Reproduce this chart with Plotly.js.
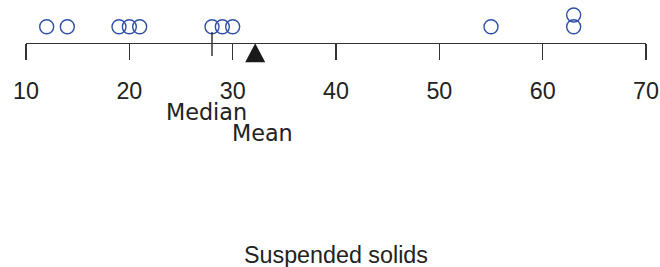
<!DOCTYPE html>
<html>
<head>
<meta charset="utf-8">
<script src="https://cdn.plot.ly/plotly-3.0.1.min.js"></script>
<style>html,body{margin:0;padding:0;background:#fff;}#chart{width:660px;height:267px;}</style>
</head>
<body>
<div id="chart"></div>
<script>
// Data: suspended solids observations
const values = [12, 14, 19, 20, 21, 28, 29, 30, 55, 63, 63];
const tickValues = [10, 20, 30, 40, 50, 60, 70];
const tickLabels = ['10', '20', '30', '40', '50', '60', '70'];
const axisTitle = 'Suspended solids';
const medianLabel = 'Median';
const meanLabel = 'Mean';

// Stack levels for repeated values (dot plot)
const seen = {};
const levels = values.map(v => { seen[v] = (seen[v] || 0) + 1; return seen[v]; });
const sorted = values.slice().sort((a, b) => a - b);
const n = sorted.length;
const median = n % 2 ? sorted[(n - 1) / 2] : (sorted[n / 2 - 1] + sorted[n / 2]) / 2;
const mean = values.reduce((a, b) => a + b, 0) / n;

// Layout helpers: plot area 100px tall starting at top of page
const PLOT_H = 100;
const BASE = 38.4, STEP = 11.7;
function yAt(p) { return (BASE - p) / STEP; }
const FONT = 'Liberation Sans, Arial, Helvetica, sans-serif';
const LABEL_FONT = 'DejaVu Sans, Liberation Sans, Arial, sans-serif';

const circles = {
  x: values, y: levels, type: 'scatter', mode: 'markers',
  marker: { symbol: 'circle-open', size: 14, color: '#3050a8', line: { width: 1.4, color: '#3050a8' } },
  cliponaxis: false, hoverinfo: 'skip', showlegend: false
};
const medianLine = {
  x: [median, median], y: [yAt(32), yAt(56)], type: 'scatter', mode: 'lines',
  line: { color: '#333', width: 1.5 }, cliponaxis: false, hoverinfo: 'skip', showlegend: false
};
const halfW = 10 / (620 / 60);
const meanTri = {
  x: [mean - halfW, mean + halfW, mean, mean - halfW],
  y: [yAt(62.3), yAt(62.3), yAt(43.3), yAt(62.3)],
  type: 'scatter', mode: 'lines', fill: 'toself', fillcolor: '#1a1a1a',
  line: { width: 0, color: '#1a1a1a' }, cliponaxis: false, hoverinfo: 'skip', showlegend: false
};

const layout = {
  width: 660, height: 267,
  margin: { l: 26, r: 14, t: 0, b: 267 - PLOT_H, pad: 0 },
  paper_bgcolor: '#fff', plot_bgcolor: '#fff',
  showlegend: false,
  xaxis: {
    range: [10, 70], tickmode: 'array', tickvals: tickValues, ticktext: tickLabels,
    ticks: 'outside', ticklen: 16, tickwidth: 1.3, tickcolor: '#333',
    showline: true, linecolor: '#333', linewidth: 1.3,
    showgrid: false, zeroline: false, anchor: 'free', position: (PLOT_H - 43) / PLOT_H,
    ticklabelstandoff: 11,
    tickfont: { family: FONT, size: 23.3, color: '#222' }
  },
  yaxis: { visible: false, range: [yAt(PLOT_H), yAt(0)], fixedrange: true },
  annotations: [
    { x: median, xref: 'x', y: (PLOT_H - 112) / PLOT_H, yref: 'paper', xshift: -5.5,
      text: medianLabel, showarrow: false, xanchor: 'center', yanchor: 'middle',
      font: { family: LABEL_FONT, size: 22.3, color: '#222' } },
    { x: mean, xref: 'x', y: (PLOT_H - 133) / PLOT_H, yref: 'paper', xshift: 6.8,
      text: meanLabel, showarrow: false, xanchor: 'center', yanchor: 'middle',
      font: { family: LABEL_FONT, size: 22.3, color: '#222' } },
    { x: 0.5, xref: 'paper', y: (PLOT_H - 255) / PLOT_H, yref: 'paper',
      text: axisTitle, showarrow: false, xanchor: 'center', yanchor: 'middle',
      font: { family: FONT, size: 23.3, color: '#222' } }
  ]
};

Plotly.newPlot('chart', [circles, medianLine, meanTri], layout, { staticPlot: true, displayModeBar: false });
</script>
</body>
</html>
